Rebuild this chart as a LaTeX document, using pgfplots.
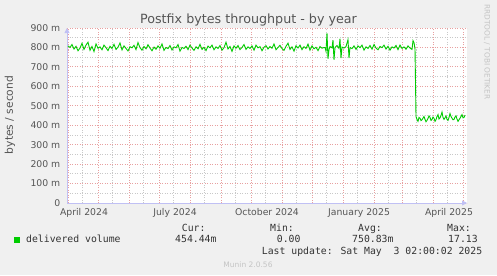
\documentclass[border=0pt]{standalone}
\usepackage{pgfplots}
\pgfplotsset{compat=1.18}
\usepackage{fontspec}
\setmainfont{DejaVu Sans}
\newfontfamily\monofont{DejaVu Sans Mono}
\usetikzlibrary{arrows.meta}
\definecolor{bgc}{HTML}{F0F0F0}
\definecolor{linec}{HTML}{00CC00}
\definecolor{majgrid}{HTML}{E8A0A0}
\definecolor{mingrid}{HTML}{C8C8C8}
\definecolor{axisc}{HTML}{C0C0F4}
\definecolor{labelc}{HTML}{555555}
\definecolor{titlec}{HTML}{555555}
\definecolor{legc}{HTML}{333333}
\definecolor{faintc}{HTML}{C4C4C4}
\begin{document}
\begin{tikzpicture}[x=1bp,y=1bp]
\fill[bgc] (0,0) rectangle (497,275);
\begin{axis}[
  at={(67bp,72bp)}, anchor=south west,
  scale only axis, width=400bp, height=175bp,
  xmin=-1, xmax=399, ymin=0, ymax=900,
  axis background/.style={fill=white},
  axis lines=left,
  axis line style={draw=axisc, line width=0.8bp, -{Triangle[length=5bp,width=5bp]}},
  xtick={0,30,61,91,122,153,183,214,244,275,306,334,365,395},
  xticklabels={},
  minor xtick={14,44,75,105,136,167,197,228,258,289,320,348,379},
  extra x ticks={16,107,199,291,381},
  extra x tick labels={April 2024,July 2024,October 2024,January 2025,April 2025},
  extra x tick style={grid=none},
  ytick={0,100,200,300,400,500,600,700,800,900},
  yticklabels={0,100 m,200 m,300 m,400 m,500 m,600 m,700 m,800 m,900 m},
  minor ytick={50,150,250,350,450,550,650,750,850},
  major tick length=0pt, minor tick length=0pt,
  grid=both,
  major grid style={draw=majgrid, line width=0.8bp, dash pattern=on 1bp off 1.5bp},
  minor grid style={draw=mingrid, line width=0.8bp, dash pattern=on 1bp off 1.5bp},
  /pgf/number format/assume math mode=true,
  yticklabel style={font=\fontsize{9.3bp}{11bp}\selectfont, text=labelc, anchor=east, inner sep=0pt, xshift=-6.5bp},
  xticklabel style={font=\fontsize{9.3bp}{11bp}\selectfont, text=labelc, anchor=north, inner sep=0pt, yshift=-5bp},
  clip=false,
]
\addplot[linec, line width=0.9bp, mark=none] coordinates {
(0,808)(2,800)(4,815)(6,792)(8,806)(10,783)(12,797)(14,821)(16,790)(18,812)(20,827)(22,785)(24,805)(26,779)(28,818)(30,796)(32,803)(34,788)(36,812)(38,799)(40,784)(42,806)(44,795)(46,816)(48,790)(50,801)(52,823)(54,787)(56,808)(58,795)(60,782)(62,804)(64,798)(66,811)(68,789)(70,825)(72,799)(74,786)(76,805)(78,793)(80,814)(82,797)(84,783)(86,802)(88,791)(90,808)(92,796)(94,818)(96,785)(98,800)(100,794)(102,810)(104,787)(106,803)(108,798)(110,815)(112,781)(114,800)(116,795)(118,806)(120,789)(122,812)(124,797)(126,785)(128,803)(130,793)(132,816)(134,790)(136,801)(138,784)(140,807)(142,798)(144,812)(146,788)(148,803)(150,795)(152,810)(154,786)(156,799)(158,827)(160,792)(162,805)(164,780)(166,808)(168,796)(170,810)(172,789)(174,800)(176,815)(178,790)(180,803)(182,795)(184,808)(186,786)(188,812)(190,798)(192,804)(194,783)(196,801)(198,809)(200,792)(202,805)(204,796)(206,818)(208,788)(210,800)(212,811)(214,794)(216,785)(218,806)(220,822)(222,790)(224,803)(226,781)(228,809)(230,797)(232,812)(234,789)(236,804)(238,795)(240,817)(242,786)(244,808)(246,793)(248,801)(250,784)(252,805)(254,796)(256,800)
(257,800)(258,780)(259,874)(260,742)(261,790)(262,805)(264,798)(265,838)(266,736)(267,800)(269,810)(271,795)(272,845)(273,745)(274,802)(276,797)(278,805)(280,840)(281,745)(282,800)(284,794)(286,808)
(288,790)(290,808)(292,799)(294,812)(296,786)(298,803)(300,795)(302,810)(304,791)(306,815)(308,797)(310,788)(312,805)(314,799)(316,812)(318,792)(320,806)(322,786)(324,803)(326,797)(328,810)(330,789)(332,812)(334,795)(336,803)(338,791)(340,808)(342,797)(344,790)(345,835)(346,825)(347,792)
(348,445)(349,430)(350,420)(351,440)(352,436)(353,424)(354,428)(356,445)(357,430)(358,418)(359,425)(360,435)(361,448)(362,440)(363,425)(364,430)(365,442)(366,436)(367,420)(368,428)(369,445)(370,455)(371,432)(372,438)(373,450)(374,468)(375,440)(376,430)(377,438)(378,448)(379,430)(380,425)(381,440)(382,460)(383,445)(384,436)(385,428)(386,430)(387,442)(388,448)(389,432)(390,420)(391,428)(392,436)(393,445)(394,455)(395,438)(396,440)(397,452)
};
\end{axis}
% title and labels
\node[anchor=base, inner sep=0pt, text=titlec, font=\fontsize{12.7bp}{14bp}\selectfont] at (248.5,251.5) {Postfix bytes throughput - by year};
\node[rotate=90, inner sep=0pt, text=labelc, font=\fontsize{10.7bp}{12bp}\selectfont] at (10,160) {bytes / second};
\node[rotate=-90, inner sep=0pt, text=faintc, font=\fontsize{7.4bp}{9bp}\selectfont] at (487,223) {RRDTOOL / TOBI OETIKER};
% legend
\fill[linec] (14,32.5) rectangle +(5.5,5.5);
\begin{scope}[every node/.style={anchor=base west, inner sep=0pt, text=legc, font=\monofont\fontsize{9.8bp}{11bp}\selectfont}]
\node at (26,32.5) {delivered volume};
\node at (181.7,43.5) {Cur:};
\node at (270,43.5) {Min:};
\node at (358,43.5) {Avg:};
\node at (447,43.5) {Max:};
\node at (175,32.5) {454.44m};
\node at (276.7,32.5) {0.00};
\node at (352,32.5) {750.83m};
\node at (448,32.5) {17.13};
\node at (261.7,20.5) {Last update: Sat May\ \ 3 02:00:02 2025};
\end{scope}
\node[anchor=base, inner sep=0pt, text=faintc, font=\fontsize{7.5bp}{9bp}\selectfont] at (248,8) {Munin 2.0.56};
\end{tikzpicture}
\end{document}
